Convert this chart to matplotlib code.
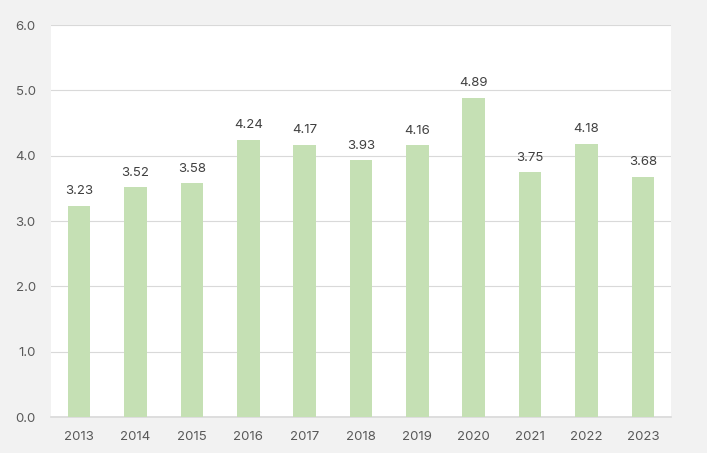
import matplotlib
matplotlib.use("Agg")
import matplotlib.pyplot as plt
import numpy as np

plt.rcParams['font.family'] = ['Inter', 'DejaVu Sans']

years = ["2013", "2014", "2015", "2016", "2017", "2018", "2019", "2020", "2021", "2022", "2023"]
values = [3.23, 3.52, 3.58, 4.24, 4.17, 3.93, 4.16, 4.89, 3.75, 4.18, 3.68]

fig = plt.figure(figsize=(7.07, 4.53), dpi=100, facecolor='#f2f2f2')
ax = fig.add_axes([51/707, 1 - 417/453, 620/707, 392/453])
ax.set_facecolor('white')

x = np.arange(len(years))
bars = ax.bar(x, values, width=0.4, color='#c5e0b4', zorder=3)

for xi, v in zip(x, values):
    ax.text(xi, v + 0.13, f"{v:.2f}", ha='center', va='bottom',
            fontsize=9.5, color='#404040')

ax.set_xlim(-0.5, len(years) - 0.5)
ax.set_ylim(0, 6)
ax.set_yticks(np.arange(0, 6.1, 1.0))
ax.set_yticklabels([f"{t:.1f}" for t in np.arange(0, 6.1, 1.0)])
ax.set_xticks(x)
ax.set_xticklabels(years)

ax.grid(axis='y', color='#d9d9d9', linewidth=0.8, zorder=0)
for s in ['left', 'right', 'top']:
    ax.spines[s].set_visible(False)
ax.spines['bottom'].set_color('#d9d9d9')
ax.spines['bottom'].set_linewidth(1.2)

ax.tick_params(axis='both', length=0, labelsize=9.5, labelcolor='#595959')
ax.tick_params(axis='x', pad=10)
ax.tick_params(axis='y', pad=11)

fig.savefig("out.png", dpi=100, facecolor=fig.get_facecolor())
